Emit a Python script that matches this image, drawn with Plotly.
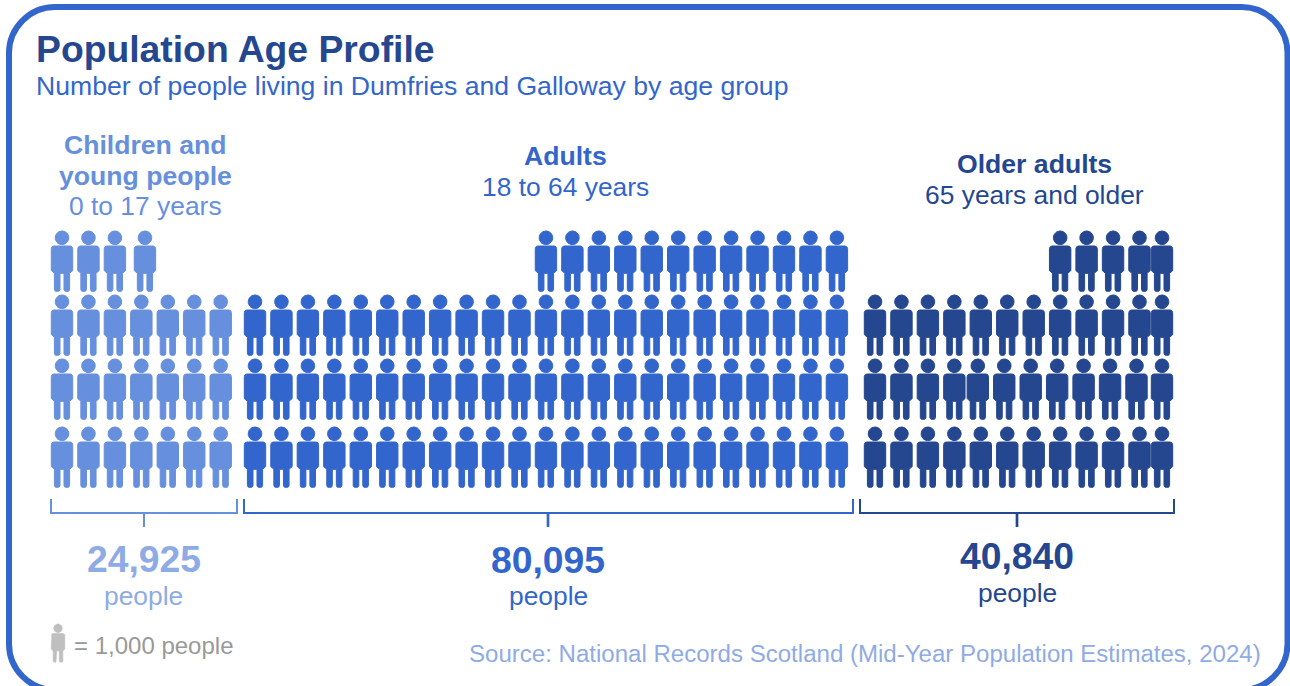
import numpy as np
import plotly.graph_objects as go

# Population by age group, Dumfries and Galloway
group_titles = [["Children and", "young people"], ["Adults"], ["Older adults"]]
group_ranges = ["0 to 17 years", "18 to 64 years", "65 years and older"]
group_people = [24925, 80095, 40840]
# Icons drawn per row, top row first (one icon stands for about 1,000 people)
children_rows = [4, 7, 7, 7]
adults_rows = [12, 23, 23, 23]
older_rows = [5, 12, 12, 12]

W, H = 1290, 686
NAVY, BLUE, MID, PALE, GREY = "#24478F", "#3366CC", "#668FDD", "#8FABE5", "#999999"
FONT = "Liberation Sans"

PITCH = 26.45
ROW_TOPS = [231, 295, 359, 427]


def arc(cx, cy, r, a0, a1, n=8):
    t = np.radians(np.linspace(a0, a1, n))
    return cx + r * np.cos(t), cy + r * np.sin(t)


def person_outline():
    """Body and legs of the figure as one closed outline, head as another."""
    parts = []
    # right half, then mirrored: shoulder, chamfered hip, squared-off foot
    sx, sy = arc(8.0, 17.7, 2.7, -90, 0)
    parts.append((sx, sy))
    parts.append((np.array([10.7, 7.6]), np.array([39.6, 42.3])))
    ox, oy = arc(5.7, 58.5, 1.9, 0, 90, 5)
    parts.append((ox, oy))
    ix, iy = arc(3.9, 58.5, 1.9, 90, 180, 5)
    parts.append((ix, iy))
    parts.append((np.array([2.0]), np.array([42.3])))
    xr = np.concatenate([p[0] for p in parts])
    yr = np.concatenate([p[1] for p in parts])
    body_x = np.concatenate([xr, -xr[::-1]])
    body_y = np.concatenate([yr, yr[::-1]])
    head_x, head_y = arc(0, 6.8, 6.8, 0, 360, 32)
    return (body_x, body_y), (head_x, head_y)


BODY, HEAD = person_outline()


def icon_trace(centres, tops, color, scale=1.0, edge=1.0):
    xs, ys = [], []
    for cx, top in zip(centres, tops):
        for px, py in (BODY, HEAD):
            xs.extend((cx + scale * px).tolist() + [float(cx + scale * px[0]), None])
            ys.extend((top + scale * py).tolist() + [float(top + scale * py[0]), None])
    return go.Scatter(x=xs, y=ys, mode="lines", fill="toself", fillcolor=color,
                      line=dict(width=edge, color=color), hoverinfo="skip", showlegend=False)


def columns(rows, first_x, last_column=None):
    col_x = [first_x + i * PITCH for i in range(max(rows))]
    if last_column is not None:
        col_x[-1] = last_column
    return col_x


fig = go.Figure()

# Children: the short top row fills from the left
col_x = columns(children_rows, 62)
kid_x, kid_top = [], []
for r, count in enumerate(children_rows):
    for c in range(count):
        nudge = 3.6 if (r == 0 and c == 3) else 0
        kid_x.append(col_x[c] + nudge)
        kid_top.append(ROW_TOPS[r])
fig.add_trace(icon_trace(kid_x, kid_top, MID))

# Adults: the short top row fills from the right
col_x = columns(adults_rows, 255)
ad_x, ad_top = [], []
for r, count in enumerate(adults_rows):
    for c in range(max(adults_rows) - count, max(adults_rows)):
        ad_x.append(col_x[c])
        ad_top.append(ROW_TOPS[r])
fig.add_trace(icon_trace(ad_x, ad_top, BLUE))

# Older adults: last column sits tight against its neighbour
col_x = columns(older_rows, 875, last_column=1162)
old_x, old_top = [], []
for r, count in enumerate(older_rows):
    for c in range(max(older_rows) - count, max(older_rows)):
        shift = -3 if (r == 2 and 4 <= c <= 10) else 0
        old_x.append(col_x[c] + shift)
        old_top.append(ROW_TOPS[r])
fig.add_trace(icon_trace(old_x, old_top, NAVY))

# Key icon
fig.add_trace(icon_trace([58], [624], "#BFBFBF", scale=0.635, edge=0.6))

# Brackets under each block, each with a heavier centre tick
brackets = [(51, 237, 144, MID, 2.0), (244, 853, 548, BLUE, 2.7), (860, 1174, 1017, NAVY, 2.7)]
for x0, x1, xm, color, tick_w in brackets:
    fig.add_trace(go.Scatter(
        x=[x0, x0, x1, x1], y=[499, 513, 513, 499],
        mode="lines", line=dict(color=color, width=2), hoverinfo="skip", showlegend=False))
    fig.add_trace(go.Scatter(
        x=[xm, xm], y=[513, 527],
        mode="lines", line=dict(color=color, width=tick_w), hoverinfo="skip", showlegend=False))


def label(x, y, text, size, color, bold=False, anchor="center"):
    fig.add_annotation(x=x, y=y, xref="x", yref="y", text=f"<b>{text}</b>" if bold else text,
                       showarrow=False, xanchor=anchor, yanchor="middle",
                       font=dict(family=FONT, size=size, color=color))


label(34, 49, "Population Age Profile", 37.3, NAVY, bold=True, anchor="left")
label(34, 86, "Number of people living in Dumfries and Galloway by age group", 26.6, BLUE, anchor="left")

label(145, 145, group_titles[0][0], 26.6, MID, bold=True)
label(145, 176, group_titles[0][1], 26.6, MID, bold=True)
label(145, 206, group_ranges[0], 26.4, MID)
label(565, 156, group_titles[1][0], 26.6, BLUE, bold=True)
label(565, 187, group_ranges[1], 26.4, BLUE)
label(1034, 164, group_titles[2][0], 26.6, NAVY, bold=True)
label(1034, 195, group_ranges[2], 26.4, NAVY)

number_spots = [(144, 559, 143, 596, PALE), (548, 560, 548, 596, BLUE), (1017, 556, 1017, 593, NAVY)]
for value, (xn, yn, xp, yp, color) in zip(group_people, number_spots):
    label(xn, yn, f"{value:,}", 37.3, color, bold=True)
    label(xp, yp, "people", 26.4, color)

label(72, 645.5, "= 1,000 people", 24, GREY, anchor="left")
label(1263, 653.5, "Source: National Records Scotland (Mid-Year Population Estimates, 2024)", 24.05, PALE, anchor="right")

# Rounded frame, running just past the bottom edge of the page
L, T, R, B, r = 9, 7, 1287.5, 690, 46
k = r * 0.45
frame = (f"M{L + r},{T} L{R - r},{T} C{R - k},{T} {R},{T + k} {R},{T + r} L{R},{B - r} "
         f"C{R},{B - k} {R - k},{B} {R - r},{B} L{L + r},{B} C{L + k},{B} {L},{B - k} {L},{B - r} "
         f"L{L},{T + r} C{L},{T + k} {L + k},{T} {L + r},{T} Z")

fig.update_layout(
    width=W, height=H, autosize=False,
    margin=dict(l=0, r=0, t=0, b=0),
    paper_bgcolor="white", plot_bgcolor="white", showlegend=False,
    xaxis=dict(range=[0, W], visible=False, fixedrange=True),
    yaxis=dict(range=[H, 0], visible=False, fixedrange=True),
    shapes=[dict(type="path", path=frame, xref="x", yref="y", line=dict(color=BLUE, width=6), layer="below")],
)

fig.write_html("out.html", config=dict(displayModeBar=False))
